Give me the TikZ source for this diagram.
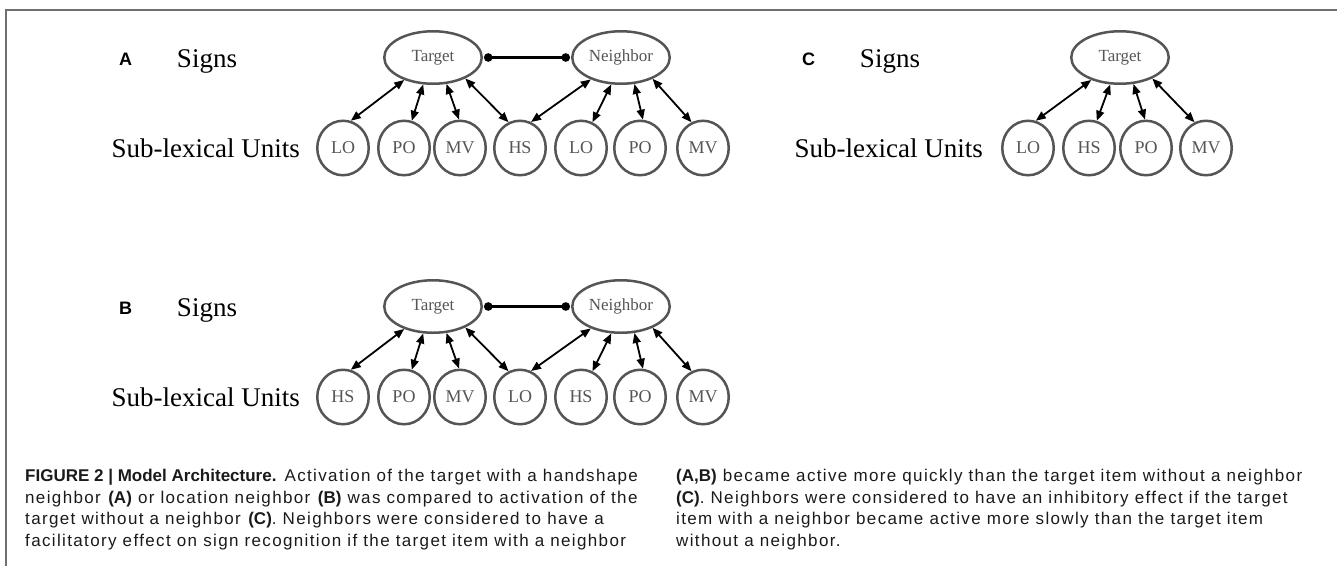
\documentclass[tikz,border=0pt]{standalone}
\usepackage{fontspec}
\setmainfont{Liberation Serif}
\newfontfamily\capfont[LetterSpace=8, BoldFeatures={LetterSpace=0}]{Liberation Sans}
\newfontfamily\labfont{Liberation Sans}
\usetikzlibrary{arrows.meta,shapes.geometric}
\definecolor{edge}{HTML}{555555}
\definecolor{frame}{HTML}{707070}
\definecolor{captext}{HTML}{1a1a1a}
\tikzset{
 sign/.style={ellipse, draw=edge, line width=2.5pt, minimum width=97.5pt, minimum height=52.5pt, inner sep=0pt, text=edge, font=\fontsize{17}{17}\selectfont},
 unit/.style={ellipse, draw=edge, line width=2.5pt, minimum width=51.5pt, minimum height=54.5pt, inner sep=0pt, text=edge, font=\fontsize{18}{18}\selectfont},
 link/.style={line width=1.8pt, {Triangle[length=10pt,width=8pt]}-{Triangle[length=10pt,width=8pt]}},
 lat/.style={line width=2.2pt, {Circle[length=8.5pt]}-{Circle[length=8.5pt]}, shorten <=1pt, shorten >=1pt},
 panlab/.style={anchor=base west, inner sep=0pt, font=\labfont\bfseries\fontsize{18}{18}\selectfont},
 layerlab/.style={inner sep=0pt, font=\fontsize{27}{27}\selectfont},
 captionline/.style={anchor=base west, inner sep=0pt, text=captext, font=\capfont\fontsize{17}{20}\selectfont},
 framel/.style={draw=frame, line width=1.8pt},
}
\begin{document}
\begin{tikzpicture}[x=1pt,y=-1pt]
\useasboundingbox (0,0) rectangle (1342,566);
% frame
\coordinate (f0) at (6,566);
\coordinate (f1) at (6,10);
\coordinate (f2) at (1337,10);
\draw[framel] (f0) -- (f1) -- (f2);

% ---------- Panel A ----------
\node[panlab] (labA) at (119,65) {A};
\node[layerlab, anchor=base] (sigA) at (207,67) {Signs};
\node[layerlab, anchor=base east] (subA) at (300,157) {Sub-lexical Units};
\node[sign] (TA) at (433,57.5) {Target};
\node[sign] (NA) at (621,57.5) {Neighbor};
\foreach \n/\x/\t in {1/343/LO,2/404/PO,3/460/MV,4/520/HS,5/581/LO,6/640/PO,7/703/MV}
  \node[unit] (a\n) at (\x,148) {\t};
\draw[lat] (TA.east) -- (NA.west);
\draw[link] (TA.218) -- (a1.74);
\draw[link] (TA.250) -- (a2.74);
\draw[link] (TA.297) -- (a3.92);
\draw[link] (TA.327) -- (a4.114);
\draw[link] (NA.216) -- (a4.67);
\draw[link] (NA.250) -- (a5.66);
\draw[link] (NA.297) -- (a6.84);
\draw[link] (NA.326) -- (a7.114);

% ---------- Panel B ----------
\node[panlab] (labB) at (119,314) {B};
\node[layerlab, anchor=base] (sigB) at (207,316) {Signs};
\node[layerlab, anchor=base east] (subB) at (300,406) {Sub-lexical Units};
\node[sign] (TB) at (433,306.5) {Target};
\node[sign] (NB) at (621,306.5) {Neighbor};
\foreach \n/\x/\t in {1/343/HS,2/404/PO,3/460/MV,4/520/LO,5/581/HS,6/640/PO,7/703/MV}
  \node[unit] (b\n) at (\x,397) {\t};
\draw[lat] (TB.east) -- (NB.west);
\draw[link] (TB.218) -- (b1.74);
\draw[link] (TB.250) -- (b2.74);
\draw[link] (TB.297) -- (b3.92);
\draw[link] (TB.327) -- (b4.114);
\draw[link] (NB.216) -- (b4.67);
\draw[link] (NB.250) -- (b5.66);
\draw[link] (NB.297) -- (b6.84);
\draw[link] (NB.326) -- (b7.114);

% ---------- Panel C ----------
\node[panlab] (labC) at (802,65) {C};
\node[layerlab, anchor=base] (sigC) at (890,67) {Signs};
\node[layerlab, anchor=base east] (subC) at (983,157) {Sub-lexical Units};
\node[sign] (TC) at (1120,57.5) {Target};
\foreach \n/\x/\t in {1/1028/LO,2/1089/HS,3/1146/PO,4/1206/MV}
  \node[unit] (c\n) at (\x,148) {\t};
\draw[link] (TC.218) -- (c1.74);
\draw[link] (TC.250) -- (c2.74);
\draw[link] (TC.297) -- (c3.92);
\draw[link] (TC.327) -- (c4.114);

% ---------- Caption ----------
\node[captionline] (l1) at (25,481.5) {\textbf{FIGURE 2 | Model Architecture.} Activation of the target with a handshape};
\node[captionline] (l2) at (25,503) {neighbor \textbf{(A)} or location neighbor \textbf{(B)} was compared to activation of the};
\node[captionline] (l3) at (25,524.5) {target without a neighbor \textbf{(C)}. Neighbors were considered to have a};
\node[captionline] (l4) at (25,546) {facilitatory effect on sign recognition if the target item with a neighbor};
\node[captionline] (r1) at (676,481.5) {\textbf{(A,B)} became active more quickly than the target item without a neighbor};
\node[captionline] (r2) at (676,503) {\textbf{(C)}. Neighbors were considered to have an inhibitory effect if the target};
\node[captionline] (r3) at (676,524.5) {item with a neighbor became active more slowly than the target item};
\node[captionline] (r4) at (676,546) {without a neighbor.};
\end{tikzpicture}
\end{document}
